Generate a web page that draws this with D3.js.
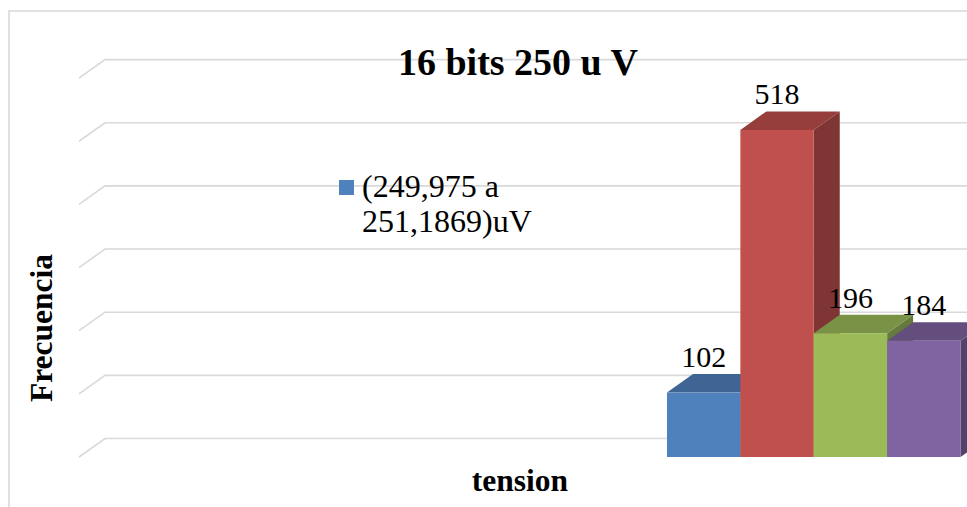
<!DOCTYPE html>
<html>
<head>
<meta charset="utf-8">
<script src="https://cdn.jsdelivr.net/npm/d3@7"></script>
<style>
  html, body { margin: 0; padding: 0; background: #ffffff; }
  svg { display: block; }
</style>
</head>
<body>
<svg id="chart" width="967" height="507"></svg>
<script>
// Chart data
const seriesNames = ["(249,975 a 251,1869)uV", "Serie 2", "Serie 3", "Serie 4"];
const seriesValues = [102, 518, 196, 184];
const seriesColors = ["#4F81BD", "#C0504D", "#9BBB59", "#8064A2"];
const yTicks = [0, 100, 200, 300, 400, 500, 600];
const titleText = "16 bits 250 u V";
const xTitle = "tension";
const yTitle = "Frecuencia";
const legendLines = ["(249,975 a", "251,1869)uV"];

const W = 967, H = 507;
const FONT = "Liberation Serif";
const svg = d3.select("#chart");

// 3D depth offset of the back wall
const depthX = 26, depthY = -18.5;
const floorY = 457;
const wallLeft = 79;

const y = d3.scaleLinear().domain([0, 600]).range([floorY, floorY - 6 * 63.15]);
const x = d3.scaleBand().domain(seriesNames).range([667, 960.5]).padding(0);

// chart area border (left and top edges visible)
svg.append("path")
  .attr("d", `M9,${H} L9,11 L${W},11`)
  .attr("fill", "none")
  .attr("stroke", "#d9d9d9")
  .attr("stroke-width", 1.6);

// gridlines on the back wall with the slanted side-wall stub
const grid = svg.append("g");
yTicks.forEach(v => {
  const yf = y(v);
  grid.append("path")
    .attr("d", `M${wallLeft},${yf} L${wallLeft + depthX},${yf + depthY} L${W},${yf + depthY}`)
    .attr("fill", "none")
    .attr("stroke", "#d9d9d9")
    .attr("stroke-width", 1.6);
});

// shading helper
function shade(c, k) {
  const col = d3.rgb(c);
  return d3.rgb(col.r * k, col.g * k, col.b * k).formatHex();
}

// 3D columns, drawn left to right
const bars = svg.append("g");
seriesNames.forEach((name, i) => {
  const v = seriesValues[i];
  const x0 = x(name), x1 = x0 + x.bandwidth();
  const yt = y(v), yb = y(0);
  const g = bars.append("g");
  // right side face
  g.append("path")
    .attr("d", `M${x1},${yb} L${x1 + depthX},${yb + depthY} L${x1 + depthX},${yt + depthY} L${x1},${yt} Z`)
    .attr("fill", shade(seriesColors[i], 0.66));
  // top face
  g.append("path")
    .attr("d", `M${x0},${yt} L${x0 + depthX},${yt + depthY} L${x1 + depthX},${yt + depthY} L${x1},${yt} Z`)
    .attr("fill", shade(seriesColors[i], 0.78));
  // front face
  g.append("rect")
    .attr("x", x0).attr("y", yt)
    .attr("width", x.bandwidth()).attr("height", yb - yt)
    .attr("fill", seriesColors[i]);
});

// value labels
svg.append("g").selectAll("text")
  .data(seriesValues)
  .join("text")
  .attr("x", (d, i) => x(seriesNames[i]) + x.bandwidth() / 2)
  .attr("y", d => y(d) + depthY - 7)
  .attr("text-anchor", "middle")
  .style("font-family", FONT)
  .style("font-size", "30px")
  .text(d => d);

// title
svg.append("text")
  .attr("x", 518).attr("y", 75)
  .attr("text-anchor", "middle")
  .style("font-family", FONT)
  .style("font-size", "38px")
  .style("font-weight", "bold")
  .text(titleText);

// axis titles
svg.append("text")
  .attr("x", 520).attr("y", 491)
  .attr("text-anchor", "middle")
  .style("font-family", FONT)
  .style("font-size", "31.5px")
  .style("font-weight", "bold")
  .text(xTitle);

svg.append("text")
  .attr("transform", "translate(52,328) rotate(-90)")
  .attr("text-anchor", "middle")
  .style("font-family", FONT)
  .style("font-size", "31.5px")
  .style("font-weight", "bold")
  .text(yTitle);

// legend (first series only)
const legend = svg.append("g");
legend.append("rect")
  .attr("x", 339).attr("y", 180)
  .attr("width", 15).attr("height", 15)
  .attr("fill", seriesColors[0]);
legend.selectAll("text.leg")
  .data(legendLines)
  .join("text")
  .attr("class", "leg")
  .attr("x", 362)
  .attr("y", (d, i) => 197 + i * 35)
  .style("font-family", FONT)
  .style("font-size", "32px")
  .text(d => d);
</script>
</body>
</html>
